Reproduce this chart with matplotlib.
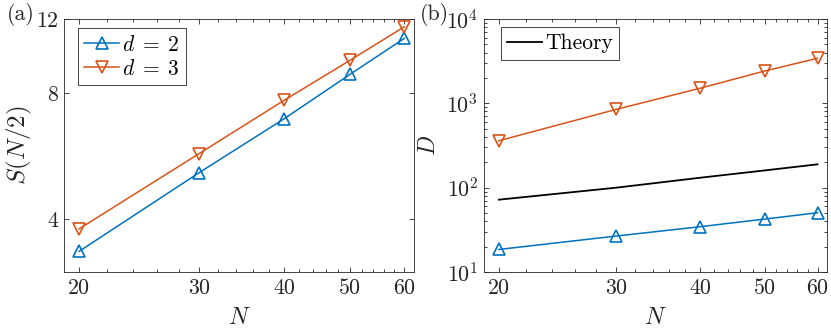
import numpy as np
import matplotlib
matplotlib.use("Agg")
import matplotlib.pyplot as plt
from matplotlib.ticker import FixedLocator, FixedFormatter, LogLocator, LogFormatterMathtext, NullFormatter

plt.rcParams['font.family'] = 'serif'
plt.rcParams['font.serif'] = ['cmr10']
plt.rcParams['mathtext.fontset'] = 'cm'
plt.rcParams['axes.formatter.use_mathtext'] = True
plt.rcParams['font.size'] = 15.8

# data
N = [20, 30, 40, 50, 60]
S_d2 = [3.36, 5.17, 6.95, 8.87, 10.79]
S_d3 = [3.80, 5.74, 7.69, 9.58, 11.5]
D_d2 = [18.5, 26.7, 34.4, 42.4, 50.4]
D_d3 = [360, 849, 1507, 2415, 3420]
D_theory = [72, 100, 131, 160, 189]

blue = '#0072BD'
orange = '#D95319'
axcol = '#262626'

fig = plt.figure(figsize=(8.31, 3.29), dpi=100)
ax1 = fig.add_axes([0.0770, 0.1733, 0.4212, 0.7690])
ax2 = fig.add_axes([0.5824, 0.1733, 0.4128, 0.7690])

mk = dict(markersize=9, markerfacecolor='none', markeredgewidth=1.2, linewidth=1.1)

ax1.plot(N, S_d2, '-^', color=blue, label=r'$d\;=\;2$', **mk)
ax1.plot(N, S_d3, '-v', color=orange, label=r'$d\;=\;3$', **mk)
ax1.set_xscale('log')
ax1.set_yscale('log')
ax1.set_xlim(19, 62)
ax1.set_ylim(3, 12)
ax1.yaxis.set_major_locator(FixedLocator([4, 8, 12]))
ax1.yaxis.set_major_formatter(FixedFormatter(['4', '8', '12']))
ax1.yaxis.set_minor_locator(FixedLocator([]))
ax1.yaxis.set_minor_formatter(NullFormatter())

ax2.plot(N, D_theory, '-', color='black', linewidth=1.3, label='Theory')
ax2.plot(N, D_d3, '-v', color=orange, **mk)
ax2.plot(N, D_d2, '-^', color=blue, **mk)
ax2.set_xscale('log')
ax2.set_yscale('log')
ax2.set_xlim(19, 62)
ax2.set_ylim(10, 1e4)
ax2.yaxis.set_major_locator(LogLocator(base=10))
ax2.yaxis.set_major_formatter(LogFormatterMathtext())
ax2.yaxis.set_minor_locator(LogLocator(base=10, subs=np.arange(2, 10)))
ax2.yaxis.set_minor_formatter(NullFormatter())

for ax in (ax1, ax2):
    ax.xaxis.set_major_locator(FixedLocator(N))
    ax.xaxis.set_major_formatter(FixedFormatter([str(n) for n in N]))
    ax.xaxis.set_minor_locator(FixedLocator(list(range(22, 62, 2))))
    ax.xaxis.set_minor_formatter(NullFormatter())
    ax.tick_params(which='both', direction='in', top=True, right=True, color=axcol,
                   labelcolor=axcol, width=0.6)
    ax.tick_params(which='major', length=3.5, pad=5)
    ax.tick_params(which='minor', length=2.2)
    ax.tick_params(axis='y', pad=4)
    for s in ax.spines.values():
        s.set_color(axcol)
        s.set_linewidth(0.6)
    ax.set_xlabel('$N$', color=axcol, fontsize=17)
    ax.xaxis.label.set_va('center')
    ax.xaxis.set_label_coords(0.5, -0.182)

ax1.set_ylabel('$S(N/2)$', color=axcol, va='center', ha='center', fontsize=18)
ax1.yaxis.set_label_coords(-0.126, 0.5)
ax2.set_ylabel('$D$', color=axcol, va='center', ha='center', fontsize=17)
ax2.yaxis.set_label_coords(-0.160, 0.5)

leg_kw = dict(loc='upper left', borderaxespad=0, fancybox=False, handlelength=1.6,
              handletextpad=0.15, labelspacing=0.2, borderpad=0.3, framealpha=1,
              fontsize=15.5)
l1 = ax1.legend(bbox_to_anchor=(0.04, 0.964), **leg_kw)
l2 = ax2.legend(bbox_to_anchor=(0.0496, 0.968), **leg_kw)
for lg in (l1, l2):
    lg.get_frame().set_edgecolor(axcol)
    lg.get_frame().set_linewidth(0.6)

fig.text(7 / 831, 1 - 15 / 329, '(a)', va='center', ha='left', color=axcol)
fig.text(420 / 831, 1 - 15 / 329, '(b)', va='center', ha='left', color=axcol)

fig.savefig('out.png', dpi=100)
